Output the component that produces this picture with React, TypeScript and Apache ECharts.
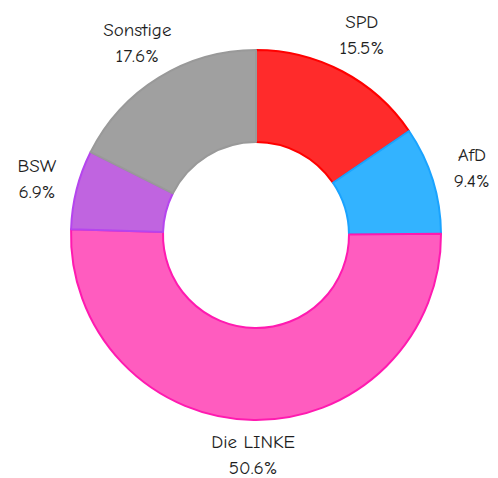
import React, { useEffect, useRef } from "react";
import * as echarts from "echarts";

const parties = ["SPD", "AfD", "Die LINKE", "BSW", "Sonstige"];
const shares = [15.5, 9.4, 50.6, 6.9, 17.6];
const fillColors = ["#ff2b2b", "#33b3ff", "#ff5cbf", "#c064e0", "#a0a0a0"];
const borderColors = ["#ff0000", "#1aa3ff", "#ff1ab0", "#b545ee", "#999999"];

const FONT = '"Comic Sans MS", "Comic Neue", "DejaVu Sans", sans-serif';

export default function App() {
  const ref = useRef<HTMLDivElement>(null);

  useEffect(() => {
    document.body.style.margin = "0";
    if (!ref.current) return;
    const chart = echarts.init(ref.current, undefined, { renderer: "svg" });

    const mainData = parties.map((name, i) => ({
      name,
      value: shares[i],
      itemStyle: {
        color: fillColors[i],
        borderColor: borderColors[i],
        borderWidth: 2,
      },
    }));

    const labelData = parties.map((name, i) => ({
      name,
      value: shares[i],
      label: name === "Die LINKE" ? { offset: [0, -6] } : undefined,
    }));

    chart.setOption({
      animation: false,
      backgroundColor: "#ffffff",
      series: [
        {
          type: "pie",
          center: [256, 235],
          radius: [93, 185],
          startAngle: 90,
          clockwise: true,
          silent: true,
          label: { show: false },
          labelLine: { show: false },
          data: mainData,
        },
        {
          type: "pie",
          center: [256, 235],
          radius: [0, 446],
          startAngle: 90,
          clockwise: true,
          silent: true,
          itemStyle: { color: "rgba(0,0,0,0)", borderWidth: 0 },
          label: {
            show: true,
            position: "inside",
            formatter: (p: any) => `${p.name}\n${p.value.toFixed(1)}%`,
            fontFamily: FONT,
            fontSize: 19,
            lineHeight: 26,
            color: "#1e1e1e",
            align: "center",
          },
          labelLine: { show: false },
          data: labelData,
          z: 3,
        },
      ],
    });

    return () => chart.dispose();
  }, []);

  return <div ref={ref} style={{ width: 498, height: 478 }} />;
}
